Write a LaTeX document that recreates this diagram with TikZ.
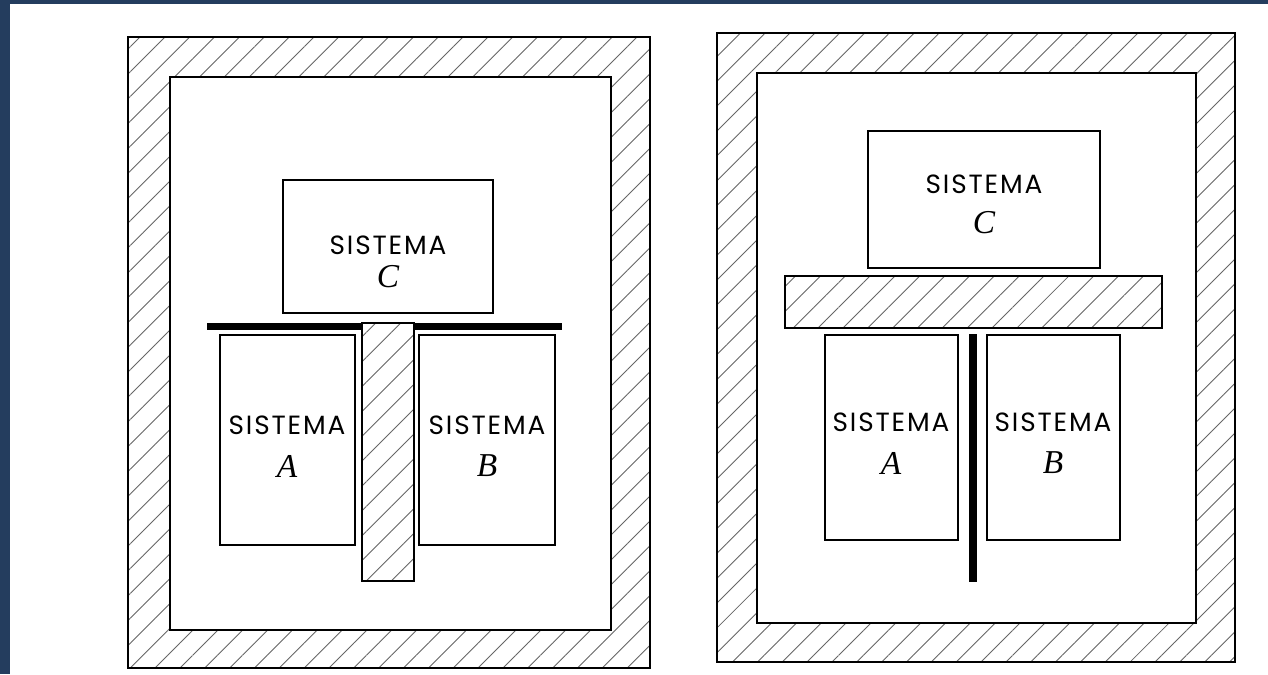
\documentclass[tikz,border=0pt]{standalone}
\usepackage{fontspec}
\setmainfont{Liberation Serif}
\newfontfamily\wordfont[LetterSpace=7]{Poppins}
\usepackage{tikz}
\usetikzlibrary{patterns.meta}
\definecolor{edgeblue}{RGB}{36,61,94}

\begin{document}
\begin{tikzpicture}[x=0.02cm,y=-0.02cm,
  wall/.style={draw=black,line width=1pt,even odd rule,pattern={Lines[angle=45,distance=10pt,line width=0.5pt]},pattern color=black!60},
  sysbox/.style={draw=black,line width=1pt},
  word/.style={font=\wordfont\fontsize{15}{18}\selectfont,inner sep=0pt},
  letter/.style={font=\itshape\fontsize{19}{20}\selectfont,inner sep=0pt}]
\useasboundingbox (0,0) rectangle (1268,674);
\fill[white] (0,0) rectangle (1268,674);
\fill[edgeblue] (0,0) rectangle (1268,4);
\fill[edgeblue] (0,0) rectangle (10,674);

% left: adiabatic walls
\draw[wall] (128,37) rectangle (650,668) (170,77) rectangle (611,630);
\draw[sysbox] (283,180) rectangle (493,313);
\fill[black] (207,323) rectangle (562,330);
\fill[white] (362,323) rectangle (414,581);
\draw[wall] (362,323) rectangle (414,581);
\draw[sysbox] (220,335) rectangle (355,545);
\draw[sysbox] (419,335) rectangle (555,545);
\node[word] (sysCl) at (388,245) {SISTEMA};
\node[letter] (letCl) at (388,277) {C};
\node[word] (sysAl) at (287,425) {SISTEMA};
\node[letter] (letAl) at (287,466) {A};
\node[word] (sysBl) at (487,425) {SISTEMA};
\node[letter] (letBl) at (487,466) {B};

% right
\draw[wall] (717,33) rectangle (1235,662) (757,73) rectangle (1196,623);
\draw[sysbox] (868,131) rectangle (1100,268);
\draw[wall] (785,276) rectangle (1162,328);
\fill[black] (969,334) rectangle (977,582);
\draw[sysbox] (825,335) rectangle (958,540);
\draw[sysbox] (987,335) rectangle (1120,540);
\node[word] (sysCr) at (984,184) {SISTEMA};
\node[letter] (letCr) at (984,223) {C};
\node[word] (sysAr) at (891,422) {SISTEMA};
\node[letter] (letAr) at (891,463) {A};
\node[word] (sysBr) at (1053,422) {SISTEMA};
\node[letter] (letBr) at (1053,463) {B};
\end{tikzpicture}
\end{document}
